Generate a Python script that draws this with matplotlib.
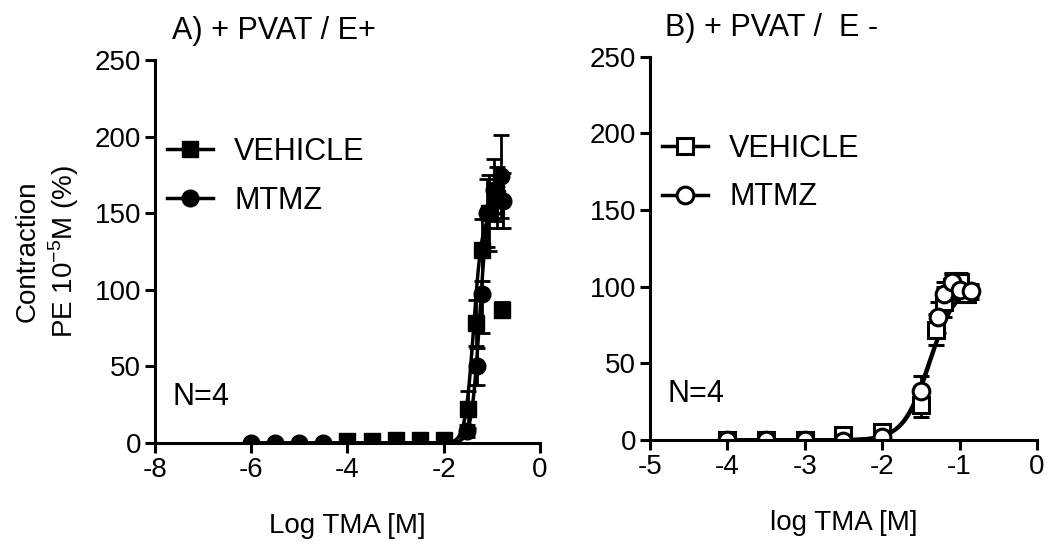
import numpy as np
import matplotlib
matplotlib.use("Agg")
from matplotlib import pyplot as plt
from matplotlib.lines import Line2D

plt.rcParams['font.family'] = ['Liberation Sans', 'DejaVu Sans']
plt.rcParams['axes.unicode_minus'] = False

# Panel A: + PVAT / E+
a_veh_x = [-4, -3.5, -3, -2.5, -2, -1.5, -1.33, -1.2, -1.05, -0.9, -0.8]
a_veh_y = [1, 1, 2, 2, 2, 22, 78, 126, 150, 160, 87]
a_veh_err = [1, 1, 1, 1, 2, 12, 15, 20, 25, 20, 5]
a_mtmz_x = [-6, -5.5, -5, -4.5, -1.52, -1.3, -1.2, -1.1, -0.95, -0.82, -0.76]
a_mtmz_y = [0, 0, 0, 0, 8, 50, 97, 150, 165, 174, 158]
a_mtmz_err = [0, 0, 0, 0, 4, 12, 25, 22, 20, 27, 18]

# Panel B: + PVAT / E-
b_veh_x = [-4, -3.5, -3, -2.5, -2, -1.5, -1.3, -1.2, -1.1, -1.0, -0.9]
b_veh_y = [0, 0, 0, 3, 5, 23, 72, 90, 100, 103, 95]
b_veh_err = [1, 1, 1, 3, 3, 8, 10, 10, 8, 6, 5]
b_mtmz_x = [-4, -3.5, -3, -2.5, -2, -1.5, -1.28, -1.2, -1.1, -1.0, -0.85]
b_mtmz_y = [0, 0, 0, -1, 2, 32, 80, 95, 103, 98, 97]
b_mtmz_err = [1, 1, 1, 3, 3, 10, 10, 8, 6, 6, 5]

# fitted sigmoid parameters (bottom, top, logEC50, hill)
a_veh_fit = (0, 150, -1.38, 5.0)
a_mtmz_fit = (0, 168, -1.25, 5.0)
b_veh_fit = (0, 102, -1.38, 2.6)
b_mtmz_fit = (0, 100, -1.4, 2.6)

labels = ['VEHICLE', 'MTMZ']


def hill(x, p):
    bottom, top, ec50, h = p
    return bottom + (top - bottom) / (1 + 10 ** ((ec50 - x) * h))


fig = plt.figure(figsize=(10.5, 5.52), dpi=100)
axA = fig.add_axes([0.1476, 0.1975, 0.3667, 0.694])
axB = fig.add_axes([0.619, 0.203, 0.3686, 0.694])

fs = 20
fs_big = 22
ms = 12
for ax in (axA, axB):
    ax.spines['top'].set_visible(False)
    ax.spines['right'].set_visible(False)
    ax.spines['left'].set_linewidth(2.2)
    ax.spines['bottom'].set_linewidth(2.2)
    ax.tick_params(width=2.2, length=7, labelsize=fs, pad=3)
    ax.set_ylim(0, 250)
    ax.set_yticks([0, 50, 100, 150, 200, 250])
    ax.spines['bottom'].set_position(('data', 0))

# panel A
xs = np.linspace(-6, -0.76, 400)
axA.plot(xs, hill(xs, a_veh_fit), color='black', lw=2.5)
axA.plot(xs, hill(xs, a_mtmz_fit), color='black', lw=2.5)
axA.errorbar(a_veh_x, a_veh_y, yerr=a_veh_err, fmt='s', color='black', ms=ms,
             capsize=6, elinewidth=2, capthick=2)
axA.errorbar(a_mtmz_x, a_mtmz_y, yerr=a_mtmz_err, fmt='o', color='black', ms=ms,
             capsize=6, elinewidth=2, capthick=2)
axA.set_xlim(-8, 0)
axA.set_xticks([-8, -6, -4, -2, 0])
axA.set_xlabel('Log TMA [M]', fontsize=fs, labelpad=22)
axA.set_ylabel('Contraction\nPE 10$^{\\mathregular{-5}}$M (%)', fontsize=fs, labelpad=10)
axA.text(0.045, 0.1, 'N=4', transform=axA.transAxes, fontsize=fs_big)
fig.text(0.164, 0.93, 'A) + PVAT / E+', fontsize=fs_big)
hA = [Line2D([], [], color='black', lw=2.5, marker='s', ms=ms),
      Line2D([], [], color='black', lw=2.5, marker='o', ms=ms)]

# panel B
xs = np.linspace(-4, -0.9, 400)
axB.plot(xs, hill(xs, b_veh_fit), color='black', lw=2.5)
axB.plot(xs, hill(xs, b_mtmz_fit), color='black', lw=2.5)
axB.errorbar(b_veh_x, b_veh_y, yerr=b_veh_err, fmt='s', color='black', ms=ms,
             mfc='white', mew=2.2, capsize=6, elinewidth=2, capthick=2)
axB.errorbar(b_mtmz_x, b_mtmz_y, yerr=b_mtmz_err, fmt='o', color='black', ms=ms,
             mfc='white', mew=2.2, capsize=6, elinewidth=2, capthick=2)
axB.set_xlim(-5, 0)
axB.set_xticks([-5, -4, -3, -2, -1, 0])
axB.set_xlabel('log TMA [M]', fontsize=fs, labelpad=22)
axB.text(0.045, 0.1, 'N=4', transform=axB.transAxes, fontsize=fs_big)
fig.text(0.633, 0.935, 'B) + PVAT /  E -', fontsize=fs_big)
hB = [Line2D([], [], color='black', lw=2.5, marker='s', ms=ms, mfc='white', mew=2.2),
      Line2D([], [], color='black', lw=2.5, marker='o', ms=ms, mfc='white', mew=2.2)]

for ax, h in ((axA, hA), (axB, hB)):
    ax.legend(h, labels, loc='upper left', bbox_to_anchor=(-0.04, 0.87), frameon=False,
              fontsize=fs_big, handlelength=1.5, handletextpad=0.7, labelspacing=0.6)

fig.savefig('out.png', dpi=100)
